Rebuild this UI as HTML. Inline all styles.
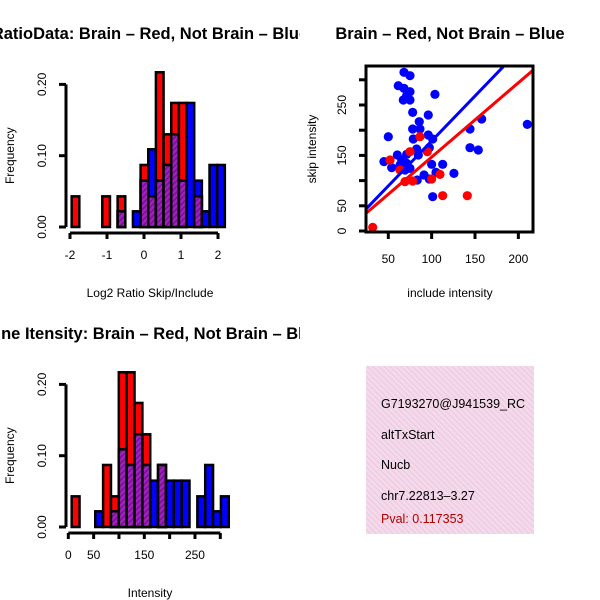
<!DOCTYPE html>
<html><head><meta charset="utf-8"><style>
body{margin:0;background:#fff}
svg{display:block;font-family:"Liberation Sans",sans-serif}
</style></head><body>
<svg id="s" width="600" height="600" viewBox="0 0 600 600">
<defs>
<pattern id="hatch" width="4" height="4" patternUnits="userSpaceOnUse" patternTransform="rotate(45)">
<rect width="4" height="4" fill="#a020c0"/><rect width="1.5" height="4" fill="#7a1090"/></pattern>
<pattern id="pinkh" width="4" height="4" patternUnits="userSpaceOnUse" patternTransform="rotate(-45)">
<rect width="4" height="4" fill="#f7d8ef"/><rect width="1.2" height="4" fill="#e6cfd8"/></pattern>
<clipPath id="leftclip"><rect x="0" y="0" width="300" height="600"/></clipPath>
</defs>
<g font-weight="bold" font-size="16.5" fill="#000">
<g clip-path="url(#leftclip)">
<text x="150" y="39" text-anchor="middle">RatioData: Brain – Red, Not Brain – Blue</text>
<text x="322" y="339" text-anchor="end">Exon Line Itensity: Brain – Red, Not Brain – Blue</text>
</g>
<text x="450" y="39" text-anchor="middle">Brain – Red, Not Brain – Blue</text>
</g>
<g id="h1"></g><g id="h2"></g><g id="sc"></g>
<g>
<rect x="366" y="366" width="168" height="168" fill="url(#pinkh)"/>
<svg x="366" y="366" width="168" height="168">
<g font-size="12.5">
<text x="15" y="42">G7193270@J941539_RC</text>
<text x="15" y="73">altTxStart</text>
<text x="15" y="103">Nucb</text>
<text x="15" y="134">chr7.22813–3.27</text>
<text x="15" y="157" fill="#b00000">Pval: 0.117353</text>
</g></svg></g>
</svg>
<script>
// Histogram 1 (log2 ratio)
const h1Start = -1.955, h1Width = 0.207;
const h1Red  = [0.043,0,0,0,0.043,0,0.043,0,0,0.087,0.043,0.217,0.13,0.174,0.174,0,0.043,0,0,0];
const h1Blue = [0,0,0,0,0,0,0.022,0,0.022,0.065,0.109,0.065,0.087,0.13,0.065,0.174,0.065,0.022,0.087,0.087];
const h1XTicks = [-2,-1,0,1,2];
const h1YTicks = [0,0.1,0.2];
const h1YLabels = ["0.00","0.10","0.20"];
// Histogram 2 (intensity)
const h2Start = 6.7, h2Width = 15.5;
const h2Red  = [0.043,0,0,0,0.087,0.043,0.217,0.217,0.174,0.13,0,0.087,0,0,0,0,0,0,0,0];
const h2Blue = [0,0,0,0.022,0,0.022,0.109,0.087,0.13,0.087,0.065,0.087,0.065,0.065,0.065,0,0.043,0.087,0.022,0.043];
const h2XTicks = [0,50,100,150,200,250,300];
const h2XLabels = ["0","50","","150","","250",""];
// Scatter
const blueX = [68.1,75,61.5,68.1,75,71.2,67.3,75,103.8,78.1,96.1,85.7,78.1,86.5,96.1,101.2,78.8,50,82.7,144.2,157.7,210.3,144.2,153.8,60.4,71.2,84.6,97.3,45,53.9,65.4,71.2,75,100,112.7,125.7,105,91.2,83.4,97.3,101.2,69.3,63.5];
const blueY = [314.9,308.2,288.3,283.1,276.4,268.5,259.9,259.9,271.2,235.4,230.1,216.9,202.4,202.4,190.5,182.5,182.5,187.1,162.7,202.4,222.2,211.6,165.3,160.7,150.8,152.1,150.8,165.3,137.6,125.7,140.9,134.3,124.3,132.3,132.3,114.4,116.4,111.1,101.2,103.2,68.1,121,130.9];
const redX = [32,112.7,141.1,86.5,95,69.3,78.1,109.6,100,52,63.5,75];
const redY = [7.3,70.1,70.1,187.1,157.4,97.9,99.2,112.4,103.2,140.9,121,157.4];
const blueFit = [0.25,1.784];
const redFit = [-0.7,1.474];
const scXTicks = [50,100,150,200];
const scYTicks = [0,50,100,150,200,250,300];
const scYLabels = ["0","50","","150","","250",""];

const NS="http://www.w3.org/2000/svg";
function mk(p,t,a){const e=document.createElementNS(NS,t);for(const k in a)e.setAttribute(k,a[k]);p.appendChild(e);return e;}

function hist(g,start,width,red,blue,sx,sy,xt,xl,yt,yl,axY,xlab,xlabY,rname){
  for(let i=0;i<red.length;i++){
    const x0=sx(start+i*width),x1=sx(start+(i+1)*width);
    const r=red[i],b=blue[i];
    if(r>0){const e=mk(g,'rect',{x:x0,y:sy(r),width:x1-x0,height:sy(0)-sy(r),fill:'#ff0000',stroke:'#000','stroke-width':2.5});
      
      }
    if(b>0){const e=mk(g,'rect',{x:x0,y:sy(b),width:x1-x0,height:sy(0)-sy(b),fill:'#0000ff',stroke:'#000','stroke-width':2.5});
      
      }
    const m=Math.min(r,b);
    if(m>0){const e=mk(g,'rect',{x:x0,y:sy(m),width:x1-x0,height:sy(0)-sy(m),fill:'url(#hatch)',stroke:'#000','stroke-width':2.5});
      
      }
  }
  const ax=mk(g,'g',{stroke:'#000','stroke-width':3});
  
  
  mk(ax,'line',{x1:sx(xt[0]),x2:sx(xt[xt.length-1]),y1:axY,y2:axY});
  xt.forEach((v,i)=>{mk(ax,'line',{x1:sx(v),x2:sx(v),y1:axY,y2:axY+6});
    if(xl[i]){const t=mk(g,'text',{x:sx(v),y:axY+26,'text-anchor':'middle','font-size':12});t.textContent=xl[i];
      
      }});
  mk(ax,'line',{x1:66,x2:66,y1:sy(yt[0]),y2:sy(yt[yt.length-1])});
  yt.forEach((v,i)=>{mk(ax,'line',{x1:66,x2:59,y1:sy(v),y2:sy(v)});
    const t=mk(g,'text',{x:46,y:sy(v),'text-anchor':'middle','font-size':12,transform:`rotate(-90 46 ${sy(v)})`});t.textContent=yl[i];
    
    });
  const yt2=mk(g,'text',{x:14,y:sy(0.1)+0,'text-anchor':'middle','font-size':12,transform:`rotate(-90 14 ${sy(0.1)})`});yt2.textContent='Frequency';
  
  
  const xt2=mk(g,'text',{x:150,y:xlabY,'text-anchor':'middle','font-size':12});xt2.textContent=xlab;
  
  
}
// hist 1
{const sx=v=>70+(v+2)*37, sy=v=>227-v*713;
 hist(document.getElementById('h1'),h1Start,h1Width,h1Red,h1Blue,sx,sy,h1XTicks,h1XTicks.map(String),h1YTicks,h1YLabels,233,'Log2 Ratio Skip/Include',297,'ratio');}
// hist 2
{const sx=v=>68.3+v*0.5067, sy=v=>527-v*713;
 hist(document.getElementById('h2'),h2Start,h2Width,h2Red,h2Blue,sx,sy,h2XTicks,h2XLabels,h1YTicks,h1YLabels,533,'Intensity',597,'intensity');}
// scatter
{const g=document.getElementById('sc');
 const sx=v=>388.3+(v-50)*0.867, sy=v=>231-v*0.504;
 const clip=mk(g,'clipPath',{id:'scclip'});mk(clip,'rect',{x:366,y:66,width:167,height:166});
 const pg=mk(g,'g',{'clip-path':'url(#scclip)'});
 blueX.forEach((v,i)=>{const c=mk(pg,'circle',{cx:sx(v),cy:sy(blueY[i]),r:4.6,fill:'#0000ff'});
   
   });
 redX.forEach((v,i)=>{const c=mk(pg,'circle',{cx:sx(v),cy:sy(redY[i]),r:4.6,fill:'#ff0000'});
   
   });
 const x0=20,x1=230;
 const bl=mk(pg,'line',{x1:sx(x0),y1:sy(blueFit[0]+blueFit[1]*x0),x2:sx(x1),y2:sy(blueFit[0]+blueFit[1]*x1),stroke:'#0000ff','stroke-width':3});
 
 
 const rl=mk(pg,'line',{x1:sx(x0),y1:sy(redFit[0]+redFit[1]*x0),x2:sx(x1),y2:sy(redFit[0]+redFit[1]*x1),stroke:'#ff0000','stroke-width':3});
 
 
 const fr=mk(g,'rect',{x:366,y:66,width:167,height:166,fill:'none',stroke:'#000','stroke-width':3});
 
 
 scXTicks.forEach(v=>{mk(g,'line',{x1:sx(v),x2:sx(v),y1:232,y2:239,stroke:'#000','stroke-width':3});
   const t=mk(g,'text',{x:sx(v),y:263,'text-anchor':'middle','font-size':12});t.textContent=v;
   
   });
 scYTicks.forEach((v,i)=>{mk(g,'line',{x1:366,x2:359,y1:sy(v),y2:sy(v),stroke:'#000','stroke-width':3});
   if(scYLabels[i]){const t=mk(g,'text',{x:346,y:sy(v),'text-anchor':'middle','font-size':12,transform:`rotate(-90 346 ${sy(v)})`});t.textContent=scYLabels[i];
   
   }});
 const a=mk(g,'text',{x:450,y:297,'text-anchor':'middle','font-size':12});a.textContent='include intensity';
 
 
 const b=mk(g,'text',{x:316,y:149,'text-anchor':'middle','font-size':12,transform:'rotate(-90 316 149)'});b.textContent='skip intensity';
 
 
}
</script>
</body></html>
